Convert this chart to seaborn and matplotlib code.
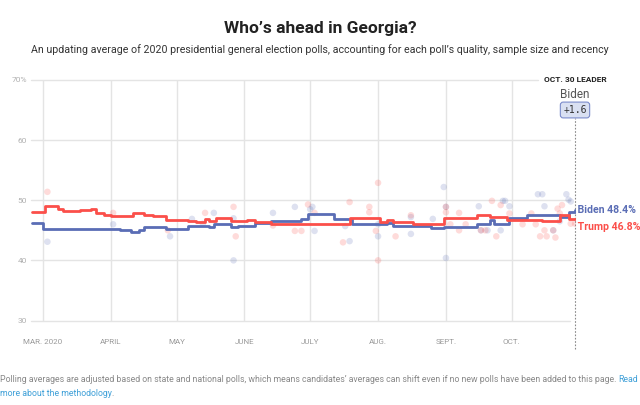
import numpy as np
import pandas as pd
import seaborn as sns
import matplotlib.pyplot as plt

# --- data (days counted from Mar. 1, 2020) ---
start = pd.Timestamp("2020-03-01")

trump_days = [-5, 1, 7, 9, 17, 22, 24, 28, 31, 41, 46, 50, 56, 66, 70, 74, 76, 79, 86, 93,
              97, 104, 116, 140, 154, 157, 160, 169, 183, 198, 204, 212, 221, 228, 236, 240, 243]
trump_avg = [48.1, 49.0, 48.6, 48.2, 48.4, 48.5, 47.9, 47.6, 47.4, 47.8, 47.6, 47.4, 46.7, 46.6,
             46.3, 46.9, 46.5, 47.1, 46.5, 46.7, 46.3, 46.1, 46.0, 47.1, 46.4, 46.7, 46.4, 46.1,
             47.1, 47.5, 47.2, 46.7, 46.7, 46.6, 47.5, 46.9, 46.8]

biden_days = [-5, 0, 18, 35, 40, 44, 46, 56, 58, 66, 76, 78, 86, 89, 97, 104, 118, 121, 133,
              141, 157, 160, 177, 183, 198, 204, 206, 213, 221, 228, 236, 240, 243]
biden_avg = [46.2, 45.2, 45.3, 45.1, 44.7, 45.0, 45.6, 45.3, 45.2, 45.7, 45.6, 46.0, 45.6, 45.8,
             46.2, 46.6, 46.9, 47.7, 46.9, 46.0, 46.2, 45.8, 45.4, 45.6, 46.1, 46.7, 46.1, 47.0,
             47.5, 47.6, 47.2, 48.0, 48.4]

biden_poll_days = [2, 32, 58, 68, 73, 78, 87, 87, 105, 115, 122, 124, 123, 138, 140, 153, 153,
                   168, 168, 178, 183, 184, 184, 199, 200, 203, 210, 211, 209, 213, 226, 228,
                   229, 233, 239, 240, 241, 236]
biden_polls = [43.1, 46.0, 44.0, 46.9, 46.1, 47.9, 47.0, 40.0, 47.9, 48.9, 48.5, 44.9, 48.9,
               45.7, 43.2, 44.0, 46.0, 44.4, 47.2, 46.9, 52.2, 40.4, 48.9, 49.0, 45.0, 45.0,
               49.9, 49.9, 45.0, 49.0, 51.0, 51.0, 49.0, 45.0, 51.0, 50.1, 49.8, 46.5]

trump_poll_days = [2, 32, 57, 74, 87, 88, 105, 115, 118, 121, 124, 137, 140, 149, 149, 152, 153,
                   153, 161, 168, 184, 184, 186, 190, 190, 193, 200, 202, 205, 207, 209, 213,
                   219, 223, 225, 227, 230, 229, 234, 233, 235, 237, 236, 241, 243]
trump_polls = [51.4, 47.9, 45.0, 47.9, 48.9, 44.0, 45.8, 44.9, 44.9, 49.3, 47.9, 43.0, 49.7,
               48.9, 48.0, 44.9, 52.9, 40.0, 44.0, 47.5, 48.9, 48.0, 46.0, 47.9, 45.0, 46.0,
               45.0, 45.0, 49.9, 44.0, 49.2, 47.8, 46.0, 47.8, 46.0, 44.0, 44.0, 45.0, 43.8,
               45.0, 48.6, 49.2, 47.8, 46.1, 46.1]

month_labels = ["MAR. 2020", "APRIL", "MAY", "JUNE", "JULY", "AUG.", "SEPT.", "OCT."]
month_starts = pd.date_range("2020-03-01", "2020-10-01", freq="MS")
y_ticks = [30, 40, 50, 60, 70]
y_labels = ["30", "40", "50", "60", "70%"]

BLUE = "#5a6db5"
RED = "#fb4f4a"
GRID = "#e4e4e4"


def to_dates(days):
    return start + pd.to_timedelta(days, unit="D")


avg = pd.concat([
    pd.DataFrame({"date": to_dates(biden_days), "pct": biden_avg, "cand": "Biden"}),
    pd.DataFrame({"date": to_dates(trump_days), "pct": trump_avg, "cand": "Trump"}),
])
polls = pd.concat([
    pd.DataFrame({"date": to_dates(biden_poll_days), "pct": biden_polls, "cand": "Biden"}),
    pd.DataFrame({"date": to_dates(trump_poll_days), "pct": trump_polls, "cand": "Trump"}),
])
palette = {"Biden": BLUE, "Trump": RED}

sns.set_theme(style="white")
plt.rcParams["font.family"] = ["Roboto", "DejaVu Sans"]

fig = plt.figure(figsize=(6.4, 4.05), dpi=100)
ax = fig.add_axes([31 / 640, 84.5 / 405, 545 / 640, 240.5 / 405])

sns.scatterplot(data=polls, x="date", y="pct", hue="cand", palette=palette, alpha=0.2,
                s=22, edgecolor="none", legend=False, ax=ax, zorder=2)
sns.lineplot(data=avg, x="date", y="pct", hue="cand", palette=palette, drawstyle="steps-post",
             linewidth=2, legend=False, ax=ax, zorder=3)

x0 = to_dates([-5.5])[0]
x1 = to_dates([243.4])[0]
ax.set_xlim(x0, x1)
ax.set_ylim(30, 70)

# horizontal grid stops a little before the last day
for y in y_ticks:
    xe = to_dates([240.5])[0] if y != 70 else to_dates([226])[0]
    ax.plot([x0, xe], [y, y], color=GRID, lw=1, zorder=0, clip_on=False)

ax.set_xticks(month_starts)
ax.set_xticklabels(month_labels)
ax.set_yticks(y_ticks)
ax.set_yticklabels(y_labels)
ax.grid(axis="x", color=GRID, lw=1)
ax.grid(axis="y", visible=False)
for s in ax.spines.values():
    s.set_visible(False)
ax.tick_params(axis="x", length=7, color=GRID, width=1, pad=6, labelsize=5.8, labelcolor="#9a9a9a")
ax.tick_params(axis="y", length=0, pad=3, labelsize=6, labelcolor="#b0b0b0")
ax.set_xlabel("")
ax.set_ylabel("")

# leader marker
oct30 = to_dates([243])[0]
ax.plot([oct30, oct30], [25.3, 63.6], color="#8a8a8a", lw=0.8, ls=(0, (1.5, 1.5)),
        clip_on=False, zorder=1)
ax.plot([oct30, oct30], [67.2, 68.2], color="#8a8a8a", lw=0.8, clip_on=False)

ax.text(oct30, 48.4, " Biden 48.4%", color=BLUE, fontsize=7.6, fontweight="bold",
        va="center", ha="left", clip_on=False)
ax.text(oct30, 46.4, " Trump 46.8%", color=RED, fontsize=7.6, fontweight="bold",
        va="top", ha="left", clip_on=False)

fig.text(575 / 640, 1 - 80 / 405, "OCT. 30 LEADER", ha="center", va="center",
         fontsize=6, fontweight="bold", color="#222222")
fig.text(575 / 640, 1 - 94 / 405, "Biden", ha="center", va="center", fontsize=8.5,
         color="#555555")
fig.text(575 / 640, 1 - 110 / 405, "+1.6", ha="center", va="center", fontsize=7,
         family="DejaVu Sans Mono", color="#333333",
         bbox=dict(boxstyle="round,pad=0.3,rounding_size=0.3", fc="#d9e0f2", ec="#7b8ccb", lw=0.8))

fig.text(0.5, 1 - 28 / 405, "Who\u2019s ahead in Georgia?", ha="center", va="center",
         fontsize=12.5, fontweight="bold", color="#222222")
fig.text(0.5, 1 - 50 / 405,
         "An updating average of 2020 presidential general election polls, accounting for each "
         "poll\u2019s quality, sample size and recency",
         ha="center", va="center", fontsize=7.7, color="#333333")

note = ("Polling averages are adjusted based on state and national polls, which means "
        "candidates\u2019 averages can shift even if no new polls have been added to this page. ")
t = fig.text(0, 1 - 379 / 405, note, ha="left", va="center", fontsize=6.35, color="#888888")
fig.canvas.draw()
bb = t.get_window_extent()
fig.text(bb.x1 / 640, 1 - 379 / 405, "Read", ha="left", va="center", fontsize=6.35,
         color="#3fa0d8")
t2 = fig.text(0, 1 - 393 / 405, "more about the methodology", ha="left", va="center",
              fontsize=6.35, color="#3fa0d8")
fig.canvas.draw()
bb2 = t2.get_window_extent()
fig.text(bb2.x1 / 640, 1 - 393 / 405, ".", ha="left", va="center", fontsize=6.35,
         color="#888888")

fig.savefig("out.png", dpi=100)
